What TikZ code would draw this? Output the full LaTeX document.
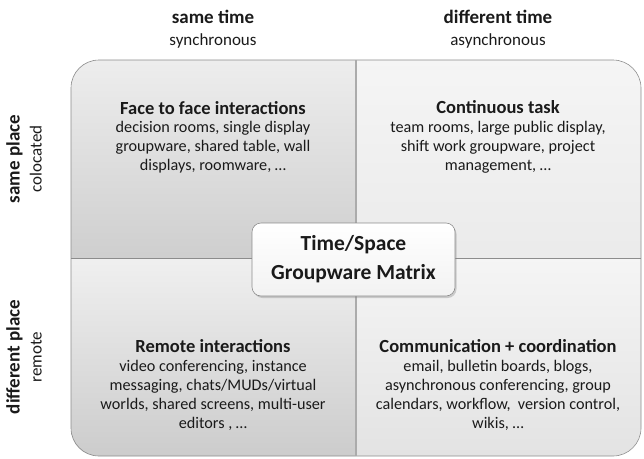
\documentclass[tikz,border=0pt]{standalone}
\usepackage{fontspec}
\setmainfont{Carlito}
\usepackage{xcolor}
\usepackage{tikz}
\usetikzlibrary{positioning,shadows}

\definecolor{edgegray}{HTML}{8C8C8C}
\definecolor{divgray}{HTML}{ABABAB}
\definecolor{inkgray}{HTML}{1A1A1A}

\begin{document}
\begin{tikzpicture}[x=1pt,y=-1pt,
    headtxt/.style={align=center, text=inkgray, font=\fontsize{17}{22}\selectfont},
    quadtxt/.style={align=center, text=inkgray, font=\fontsize{16.2}{18.8}\selectfont},
    quadedge/.style={draw=edgegray, line width=0.6pt}]
    \useasboundingbox (0,0) rectangle (644,458);

    % quadrants
    \shade[top color=black!7, bottom color=black!19] (356,258) -- (71,258) [rounded corners=27] -- (71,60) [sharp corners] -- (356,60) -- cycle;
    \shade[top color=black!4, bottom color=black!8] (356,258) -- (356,60) [rounded corners=29] -- (641,60) [sharp corners] -- (641,258) -- cycle;
    \shade[top color=black!6, bottom color=black!20] (356,258) -- (71,258) [rounded corners=27] -- (71,456) [sharp corners] -- (356,456) -- cycle;
    \shade[top color=black!4, bottom color=black!11] (356,258) -- (356,456) [rounded corners=29] -- (641,456) [sharp corners] -- (641,258) -- cycle;

    % outline and dividers
    \draw[quadedge, rounded corners=28] (71,60) rectangle (641,456);
    \draw[draw=divgray, line width=1.6pt] (356,60) -- (356,456);
    \draw[quadedge] (71,258) -- (641,258);

    % axis labels
    \node[headtxt] (sametime) at (213,29) {\textbf{\fontsize{19}{22}\selectfont same time}\\synchronous};
    \node[headtxt] (difftime) at (498,29) {\textbf{\fontsize{19}{22}\selectfont different time}\\asynchronous};
    \node[headtxt, rotate=90] (sameplace) at (24,159) {\textbf{\fontsize{19}{22}\selectfont same place}\\colocated};
    \node[headtxt, rotate=90] (diffplace) at (24,357) {\textbf{\fontsize{19}{22}\selectfont different place}\\remote};

    % quadrant texts
    \node[quadtxt] (tl) at (213,137) {\textbf{\fontsize{18.5}{18.8}\selectfont Face to face interactions}\\decision rooms, single display\\groupware, shared table, wall\\displays, roomware, \dots};
    \node[quadtxt] (tr) at (498,137) {\textbf{\fontsize{18.5}{18.8}\selectfont Continuous task}\\team rooms, large public display,\\shift work groupware, project\\management, \dots};
    \node[quadtxt] (bl) at (213,385) {\textbf{\fontsize{18.5}{18.8}\selectfont Remote interactions}\\video conferencing, instance\\messaging, chats/MUDs/virtual\\worlds, shared screens, multi-user\\editors , \dots};
    \node[quadtxt] (br) at (498,385) {\textbf{\fontsize{18.5}{18.8}\selectfont Communication + coordination}\\email, bulletin boards, blogs,\\asynchronous conferencing, group\\calendars, workflow,\ \ version control,\\wikis, \dots};

    % centre box
    \node[draw=edgegray, line width=0.6pt, rounded corners=9, top color=white, bottom color=black!5,
          drop shadow={shadow xshift=1.5pt, shadow yshift=-2pt, opacity=0.35},
          minimum width=203, minimum height=73, inner sep=0pt, align=center, text=inkgray,
          font=\fontsize{21.5}{29}\selectfont\bfseries] (gwmatrix) at (353.5,259.5) {Time/Space\\Groupware Matrix};
\end{tikzpicture}
\end{document}
